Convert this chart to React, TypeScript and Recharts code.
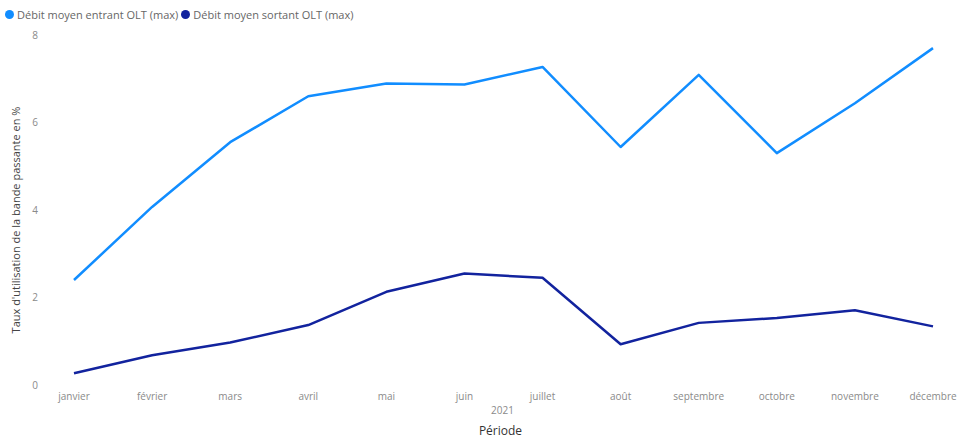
import React from "react";
import { LineChart, Line, XAxis, YAxis, Label } from "recharts";

const months = ["janvier", "février", "mars", "avril", "mai", "juin", "juillet", "août", "septembre", "octobre", "novembre", "décembre"];
const entrant = [2.4, 4.07, 5.55, 6.6, 6.89, 6.87, 7.27, 5.44, 7.09, 5.3, 6.44, 7.7];
const sortant = [0.27, 0.68, 0.97, 1.37, 2.13, 2.55, 2.45, 0.93, 1.42, 1.53, 1.71, 1.34];
const yTicks = [0, 2, 4, 6, 8];

const seriesNames = ["Débit moyen entrant OLT (max)", "Débit moyen sortant OLT (max)"];
const colors = ["#118DFF", "#12239E"];

const data = months.map((m, i) => ({ month: m, entrant: entrant[i], sortant: sortant[i] }));

const FONT = "'Open Sans', 'Noto Sans', sans-serif";

export default function App() {
  return (
    <div style={{ position: "relative", width: 959, height: 439, fontFamily: FONT, background: "#fff" }}>
      <style>{"body{margin:0}"}</style>
      <div style={{ position: "absolute", left: 5, top: 7, display: "flex", alignItems: "center", fontSize: 11, color: "#666", whiteSpace: "nowrap", zIndex: 2 }}>
        {seriesNames.map((n, i) => (
          <div key={n} style={{ display: "flex", alignItems: "center", marginRight: 3 }}>
            <span style={{ display: "inline-block", width: 9, height: 9, borderRadius: "50%", background: colors[i], marginRight: 3 }} />
            <span>{n}</span>
          </div>
        ))}
      </div>
      <LineChart width={959} height={439} data={data} margin={{ top: 35, right: 10, bottom: 0, left: 0 }}>
        <XAxis
          dataKey="month"
          height={54}
          axisLine={false}
          tickLine={false}
          tickSize={0}
          tickMargin={8}
          padding={{ left: 30, right: 16 }}
          interval={0}
          tick={{ fontSize: 10, fill: "#8a8a8a", fontFamily: FONT }}
        >
          <Label value="2021" position="insideTop" offset={22} dx={6} style={{ fontSize: 10, fill: "#8a8a8a", fontFamily: FONT }} />
          <Label value="Période" position="insideBottom" offset={4} dx={4} style={{ fontSize: 12, fill: "#333", fontFamily: FONT }} />
        </XAxis>
        <YAxis
          width={44}
          domain={[0, 8]}
          ticks={yTicks}
          axisLine={false}
          tickLine={false}
          tickSize={0}
          tickMargin={6}
          tick={{ fontSize: 10, fill: "#8a8a8a", fontFamily: FONT }}
        >
          <Label
            value="Taux d'utilisation de la bande passante en %"
            angle={-90}
            position="insideLeft"
            offset={16}
            dy={10}
            style={{ textAnchor: "middle", fontSize: 11, fill: "#444", fontFamily: FONT }}
          />
        </YAxis>
        <Line type="linear" dataKey="entrant" name={seriesNames[0]} stroke={colors[0]} strokeWidth={2.5} dot={false} isAnimationActive={false} strokeLinejoin="round" />
        <Line type="linear" dataKey="sortant" name={seriesNames[1]} stroke={colors[1]} strokeWidth={2.5} dot={false} isAnimationActive={false} strokeLinejoin="round" />
      </LineChart>
    </div>
  );
}
